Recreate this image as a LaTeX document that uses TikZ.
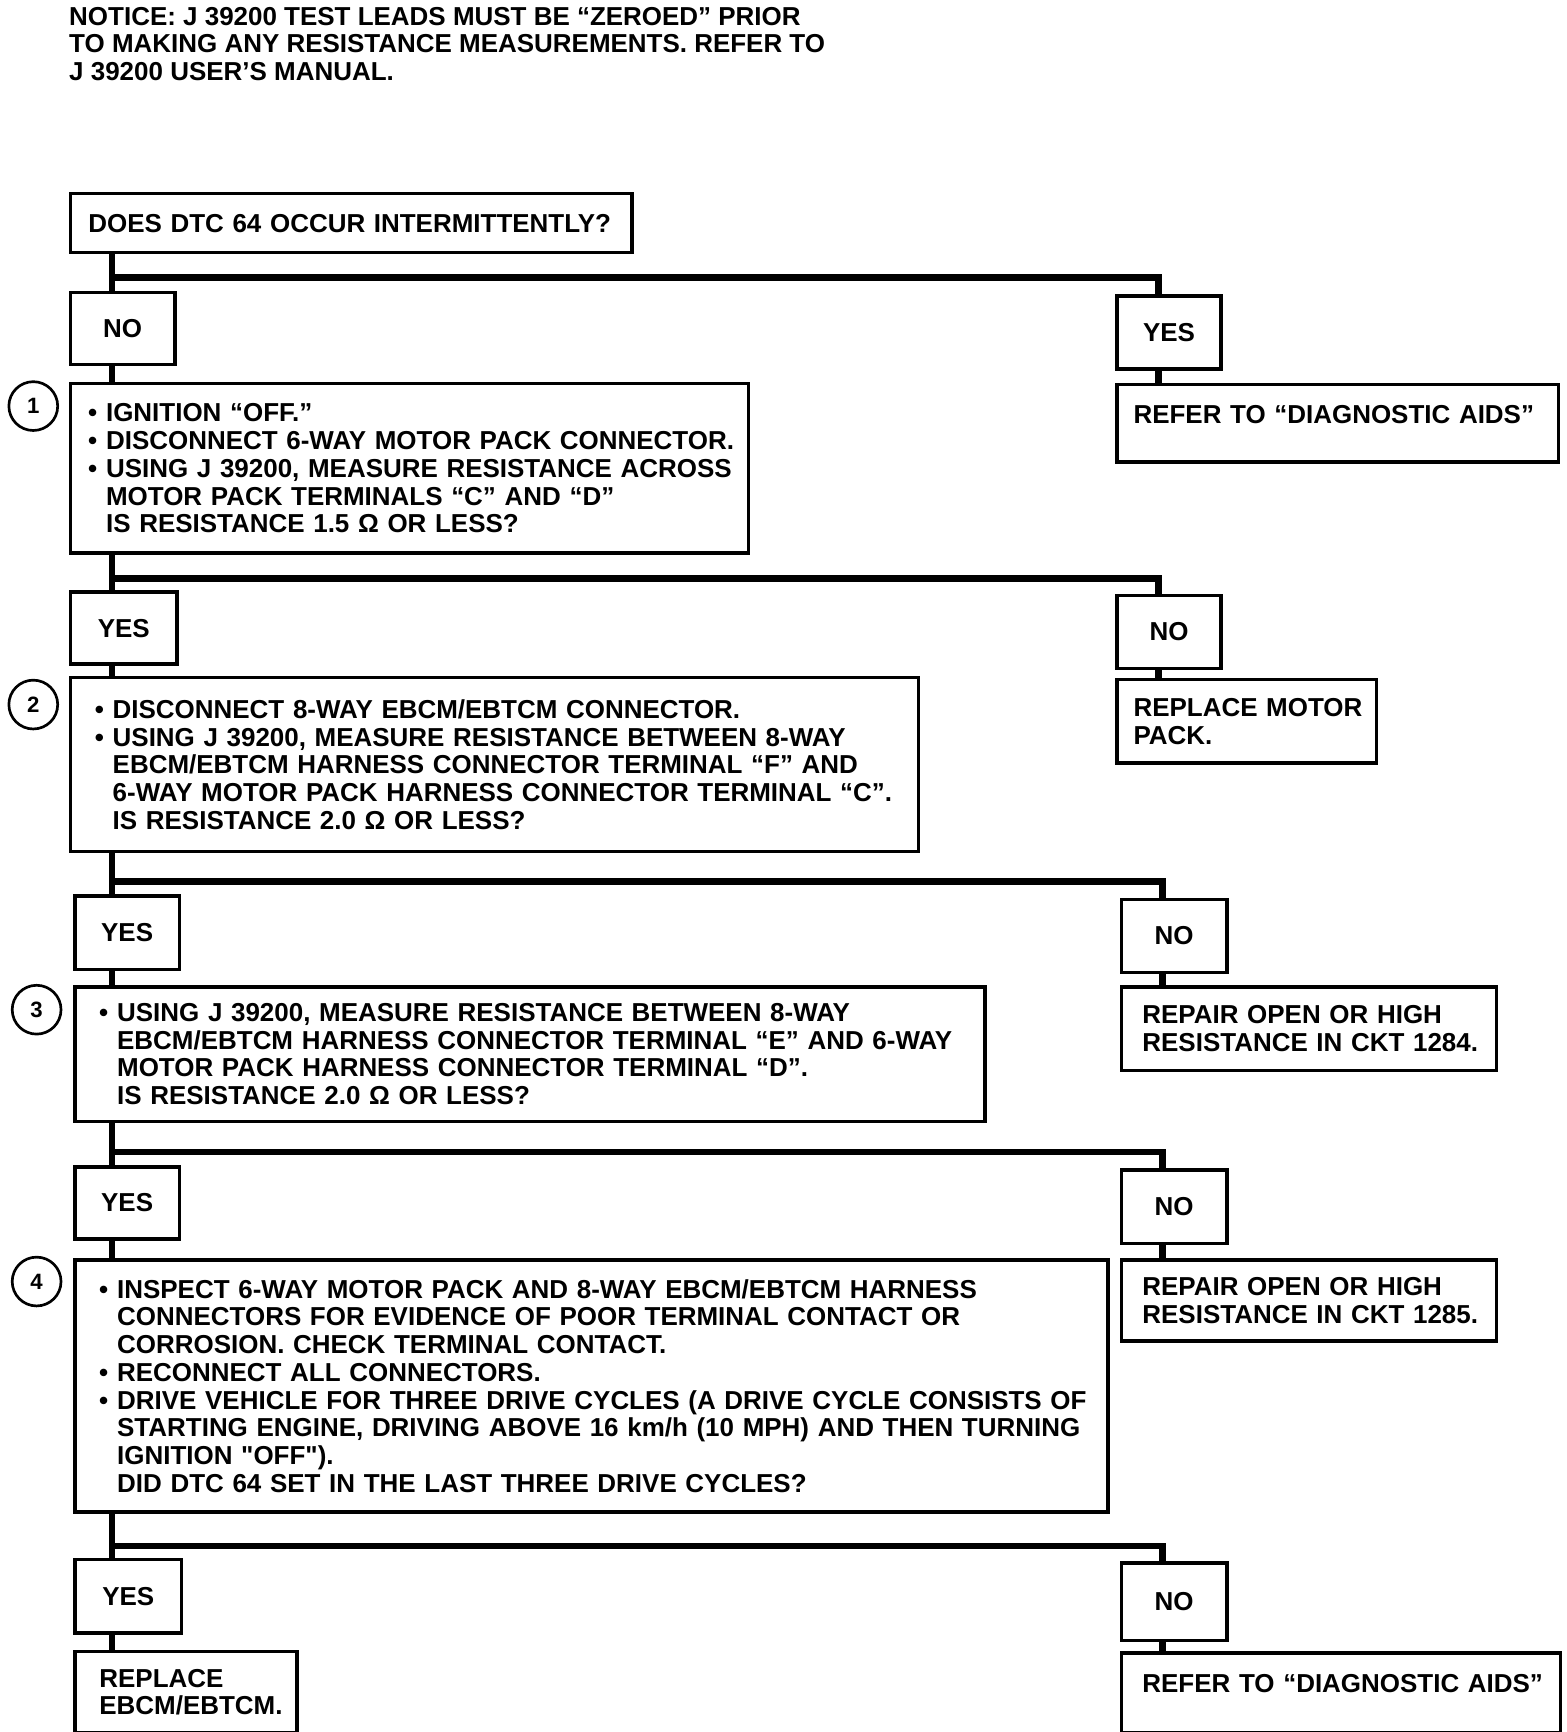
\documentclass[tikz,border=0pt]{standalone}
\usepackage{fontspec}
\setmainfont{Liberation Sans}
\newcommand{\chartfont}{\bfseries\fontsize{11.7}{12.5}\selectfont}
\newcommand{\itm}{\leavevmode\llap{\textbullet\hspace{4pt}}}

\begin{document}
\begin{tikzpicture}[
        x = 0.5pt, y = -0.5pt,
  box/.style = {draw, line width=1.6pt, anchor=north west,
                inner xsep=0pt, inner ysep=0pt, align=left, font=\chartfont},
  ans/.style = {box, align=center},
  indent/.style = {execute at begin node={\leftskip=#1\relax}},
  trunk/.style = {line width=3pt, line join=miter},
  num/.style = {circle, draw, line width=1.2pt, minimum size=22pt,
                inner sep=0pt, font=\bfseries\fontsize{10}{12}\selectfont}
                        ]
\useasboundingbox (0,0) rectangle (1412,1561);
% notice
\node[anchor=north west, inner sep=0pt, align=left, font=\chartfont] (notice) at (62,6)
    {NOTICE: J 39200 TEST LEADS MUST BE “ZEROED” PRIOR\\
     TO MAKING ANY RESISTANCE MEASUREMENTS. REFER TO\\
     J 39200 USER'S MANUAL.};
% questions
\node[box, indent=8pt, text width=253pt, minimum height=26.5pt] (q0) at (62,173)
    {DOES DTC 64 OCCUR INTERMITTENTLY?};
\node[box, indent=16pt, text width=305.5pt, minimum height=76.5pt] (s1) at (62,344)
    {\itm IGNITION “OFF.”\\
     \itm DISCONNECT 6-WAY MOTOR PACK CONNECTOR.\\
     \itm USING J 39200, MEASURE RESISTANCE ACROSS\\
     MOTOR PACK TERMINALS “C” AND “D”\\
     IS RESISTANCE 1.5 Ω OR LESS?};
\node[box, indent=19pt, text width=382pt, minimum height=78.5pt] (s2) at (62,609)
    {\itm DISCONNECT 8-WAY EBCM/EBTCM CONNECTOR.\\
     \itm USING J 39200, MEASURE RESISTANCE BETWEEN 8-WAY\\
     EBCM/EBTCM HARNESS CONNECTOR TERMINAL “F” AND\\
     6-WAY MOTOR PACK HARNESS CONNECTOR TERMINAL “C”.\\
     IS RESISTANCE 2.0 Ω OR LESS?};
\node[box, indent=19pt, text width=410pt, minimum height=60.5pt] (s3) at (66,888)
    {\itm USING J 39200, MEASURE RESISTANCE BETWEEN 8-WAY\\
     EBCM/EBTCM HARNESS CONNECTOR TERMINAL “E” AND 6-WAY\\
     MOTOR PACK HARNESS CONNECTOR TERMINAL “D”.\\
     IS RESISTANCE 2.0 Ω OR LESS?};
\node[box, indent=19pt, text width=465.5pt, minimum height=113.5pt] (s4) at (66,1134)
    {\itm INSPECT 6-WAY MOTOR PACK AND 8-WAY EBCM/EBTCM HARNESS\\
     CONNECTORS FOR EVIDENCE OF POOR TERMINAL CONTACT OR\\
     CORROSION. CHECK TERMINAL CONTACT.\\
     \itm RECONNECT ALL CONNECTORS.\\
     \itm DRIVE VEHICLE FOR THREE DRIVE CYCLES (A DRIVE CYCLE CONSISTS OF\\
     STARTING ENGINE, DRIVING ABOVE 16 km/h (10 MPH) AND THEN TURNING\\
     IGNITION \textquotedbl OFF\textquotedbl).\\
     DID DTC 64 SET IN THE LAST THREE DRIVE CYCLES?};
% step numbers
\node[num] (n1) at (30,366)  {1};
\node[num] (n2) at (30,635)  {2};
\node[num] (n3) at (33,910)  {3};
\node[num] (n4) at (33,1155) {4};
% answers
\node[ans, text width=47pt,   minimum height=32.5pt] (no0)  at (62,262)   {NO};
\node[ans, text width=47pt,   minimum height=33pt]   (yes0) at (1005,265)  {YES};
\node[ans, text width=48pt,   minimum height=32.5pt] (yes1) at (62,532)   {YES};
\node[ans, text width=47pt,   minimum height=33pt]   (no1)  at (1005,535)  {NO};
\node[ans, text width=47pt,   minimum height=33pt]   (yes2) at (66,806)   {YES};
\node[ans, text width=47.5pt, minimum height=33pt]   (no2)  at (1009,809)  {NO};
\node[ans, text width=47pt,   minimum height=32.5pt] (yes3) at (66,1050)  {YES};
\node[ans, text width=47.5pt, minimum height=33pt]   (no3)  at (1009,1053) {NO};
\node[ans, text width=48pt,   minimum height=33pt]   (yes4) at (66,1404)  {YES};
\node[ans, text width=47.5pt, minimum height=35pt]   (no4)  at (1009,1407) {NO};
% results
\node[box, indent=7.5pt, text width=199pt, minimum height=35pt, text depth=8pt] (aid1) at (1005,345)
    {REFER TO “DIAGNOSTIC AIDS”};
\node[box, indent=7.5pt, text width=117pt, minimum height=37.5pt] (mot) at (1005,611)
    {REPLACE MOTOR\\PACK.};
\node[box, indent=9.5pt, text width=169pt, minimum height=37.5pt] (ckt84) at (1009,888)
    {REPAIR OPEN OR HIGH\\RESISTANCE IN CKT 1284.};
\node[box, indent=9.5pt, text width=169pt, minimum height=36.5pt] (ckt85) at (1009,1134)
    {REPAIR OPEN OR HIGH\\RESISTANCE IN CKT 1285.};
\node[box, indent=11pt, text width=100pt, minimum height=36.5pt] (ebcm) at (66,1487)
    {REPLACE\\EBCM/EBTCM.};
\node[box, indent=9.5pt, text width=198pt, minimum height=36pt, text depth=8pt] (aid2) at (1009,1488)
    {REFER TO “DIAGNOSTIC AIDS”};
% branches
\coordinate (trunk) at (101,0);
\foreach \src/\lft/\rgt/\dy in {q0/no0/yes0/21, s1/yes1/no1/21, s2/yes2/no2/25,
                                 s3/yes3/no3/26, s4/yes4/no4/29}{
    \draw[trunk] (trunk |- \src.south) -- (trunk |- \lft.north);
    \coordinate (d) at ([xshift=19.5pt]\rgt.north west);
    \draw[trunk] (trunk |- \src.south) ++(0,\dy) -| (d);
}
\foreach \a/\b in {no0/s1, yes1/s2, yes2/s3, yes3/s4, yes4/ebcm}
    \draw[trunk] (trunk |- \a.south) -- (trunk |- \b.north);
\foreach \a/\b in {yes0/aid1, no1/mot, no2/ckt84, no3/ckt85, no4/aid2}{
    \coordinate (d) at ([xshift=19.5pt]\a.south west);
    \draw[trunk] (d) -- (d |- \b.north);
}
\end{tikzpicture}
\end{document}
